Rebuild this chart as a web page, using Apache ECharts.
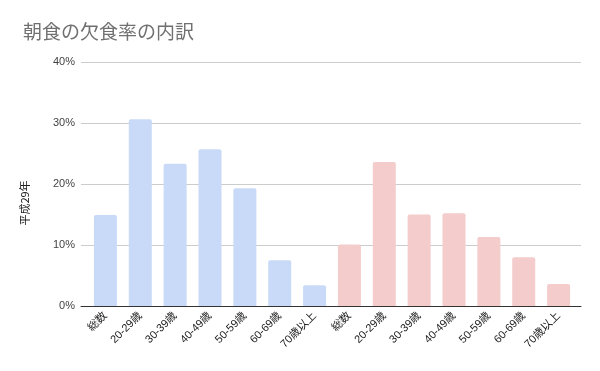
<!DOCTYPE html>
<html><head><meta charset="utf-8">
<script src="https://cdn.jsdelivr.net/npm/echarts@6/dist/echarts.min.js"></script>
<style>html,body{margin:0;padding:0;background:#fff}#c{width:600px;height:371px}</style>
</head><body><div id="c"></div>
<script>
const categories = ['総数','20-29歳','30-39歳','40-49歳','50-59歳','60-69歳','70歳以上','総数','20-29歳','30-39歳','40-49歳','50-59歳','60-69歳','70歳以上'];
const maleValues = [14.9, 30.6, 23.3, 25.7, 19.3, 7.5, 3.4];
const femaleValues = [10.1, 23.6, 15.0, 15.2, 11.3, 8.0, 3.6];
const yTicks = [0, 10, 20, 30, 40];
const titleText = '朝食の欠食率の内訳';
const yName = '平成29年';

const blueData = categories.map((c, i) => i < 7 ? maleValues[i] : null);
const pinkData = categories.map((c, i) => i >= 7 ? femaleValues[i - 7] : null);

const chart = echarts.init(document.getElementById('c'), null, {renderer: 'canvas'});
chart.setOption({
  animation: false,
  title: {text: titleText, left: 18, top: 17, textStyle: {fontSize: 19, fontWeight: 'normal', color: '#707070', fontFamily: 'Noto Sans CJK JP'}},
  graphic: [{type: 'text', x: 25, y: 203, rotation: Math.PI / 2, style: {text: yName, fontSize: 11, fill: '#222', fontFamily: 'Noto Sans CJK JP', align: 'center', verticalAlign: 'middle'}}],
  grid: [
    {left: 81, right: 19, top: 62, bottom: 65},
    {left: 88, right: 24, top: 62, bottom: 65}
  ],
  xAxis: [
    {type: 'category', gridIndex: 0, data: [''], axisLine: {show: true, lineStyle: {color: '#333'}}, axisTick: {show: false}, axisLabel: {show: false}},
    {type: 'category', gridIndex: 1, data: categories, axisLine: {show: false}, axisTick: {show: false},
     axisLabel: {rotate: 45, interval: 0, fontSize: 11, color: '#222', margin: 8, fontFamily: 'Liberation Sans, Noto Sans CJK JP'}}
  ],
  yAxis: [
    {type: 'value', gridIndex: 0, min: 0, max: 40, interval: 10, axisLine: {show: false}, axisTick: {show: false},
     splitLine: {lineStyle: {color: '#ccc'}},
     axisLabel: {formatter: v => yTicks.includes(v) ? v + '%' : '', fontSize: 11, color: '#444', margin: 6, fontFamily: 'Liberation Sans'}},
    {type: 'value', gridIndex: 1, min: 0, max: 40, interval: 10, show: false}
  ],
  series: [
    {type: 'bar', xAxisIndex: 1, yAxisIndex: 1, data: blueData, barWidth: 23, barGap: '-100%', itemStyle: {color: '#c9daf8', borderRadius: [2, 2, 0, 0]}},
    {type: 'bar', xAxisIndex: 1, yAxisIndex: 1, data: pinkData, barWidth: 23, barGap: '-100%', itemStyle: {color: '#f4cccc', borderRadius: [2, 2, 0, 0]}}
  ]
});
</script></body></html>
